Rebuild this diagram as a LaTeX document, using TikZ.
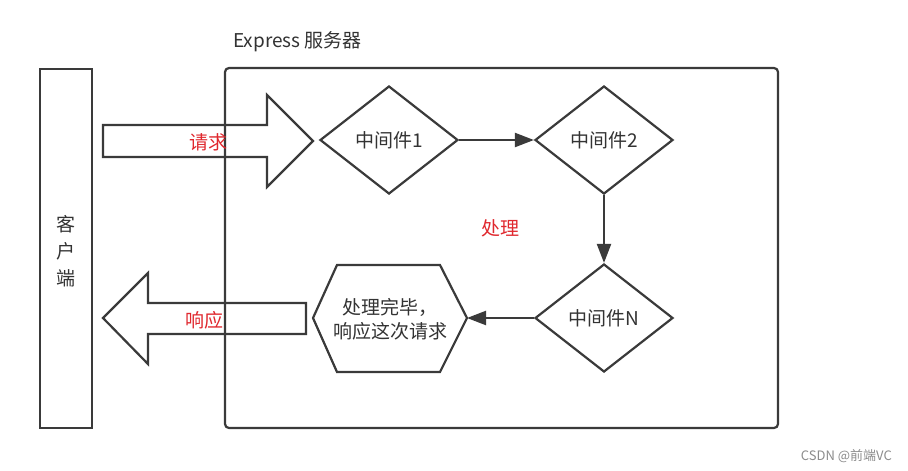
\documentclass[tikz,border=0pt]{standalone}
\usepackage{fontspec}
\setmainfont{Noto Sans CJK SC}
\usetikzlibrary{shapes.geometric,arrows.meta}
\definecolor{ln}{HTML}{3A3A3A}
\definecolor{txt}{HTML}{333333}
\definecolor{rd}{HTML}{E0282E}
\definecolor{wm}{HTML}{8C8C8C}
\tikzset{
  box/.style={draw=ln, line width=2.2pt},
  mid/.style={diamond, draw=ln, line width=2.2pt, minimum width=138pt, minimum height=108pt, inner sep=0pt, text=txt, font=\fontsize{19}{22}\selectfont},
  lbl/.style={text=txt, font=\fontsize{19}{24}\selectfont},
  redlbl/.style={text=rd, font=\fontsize{19}{22}\selectfont},
  conn/.style={draw=ln, line width=2.2pt, -{Triangle[length=19pt,width=14pt]}},
  bigarrow/.style={draw=ln, line width=2.2pt, line join=miter}
}
\begin{document}
\begin{tikzpicture}[x=1pt,y=-1pt]
\useasboundingbox (0,0) rectangle (908,471);
\fill[white] (0,0) rectangle (908,471);
% client
\node[box, minimum width=52pt, minimum height=359pt, inner sep=0pt] (client) at (66,248.5) {};
\node[lbl, align=center] (clienttxt) at (66,251) {客\\[3pt]户\\[3pt]端};
% server
\node[box, rounded corners=4pt, minimum width=553pt, minimum height=360pt, inner sep=0pt] (server) at (501.5,248) {};
\node[lbl, anchor=west, inner sep=0pt] (title) at (233,42) {Express 服务器};
% request arrow
\draw[bigarrow] (103,125) -- (267,125) -- (267,95) coordinate (reqtop) -- (313,141) coordinate (reqtip) -- (267,187) -- (267,157) -- (103,157) -- cycle;
\node[redlbl] (req) at (208,142) {请求};
% response arrow
\draw[bigarrow] (306,303) -- (148,303) -- (148,273) -- (103,318) coordinate (resptip) -- (148,364) -- (148,334) -- (306,334) -- cycle;
\node[redlbl] (resp) at (204,320) {响应};
% middlewares
\node[mid] (m1) at (389,140) {中间件1};
\node[mid] (m2) at (604,140) {中间件2};
\node[mid] (mn) at (604,318) {中间件N};
% hexagon
\node[lbl, align=center, inner sep=0pt] (done) at (390,319) {处理完毕，\\响应这次请求};
\draw[box, line join=miter] (done.center) ++(-77,-1) coordinate (hexL) -- ++(24,-53) -- ++(103,0) -- ++(27,53) coordinate (hexR) -- ++(-27,54) -- ++(-103,0) -- cycle;
% connectors
\draw[conn] (m1.east) -- (m2.west);
\draw[conn] (m2.south) -- (mn.north);
\draw[conn] (mn.west) -- (hexR);
% label
\node[redlbl] (proc) at (500,228) {处理};
% watermark
\node[text=wm, font=\fontsize{13}{15}\selectfont, anchor=east, inner sep=0pt] (wmk) at (892,456) {CSDN @前端VC};
\end{tikzpicture}
\end{document}
